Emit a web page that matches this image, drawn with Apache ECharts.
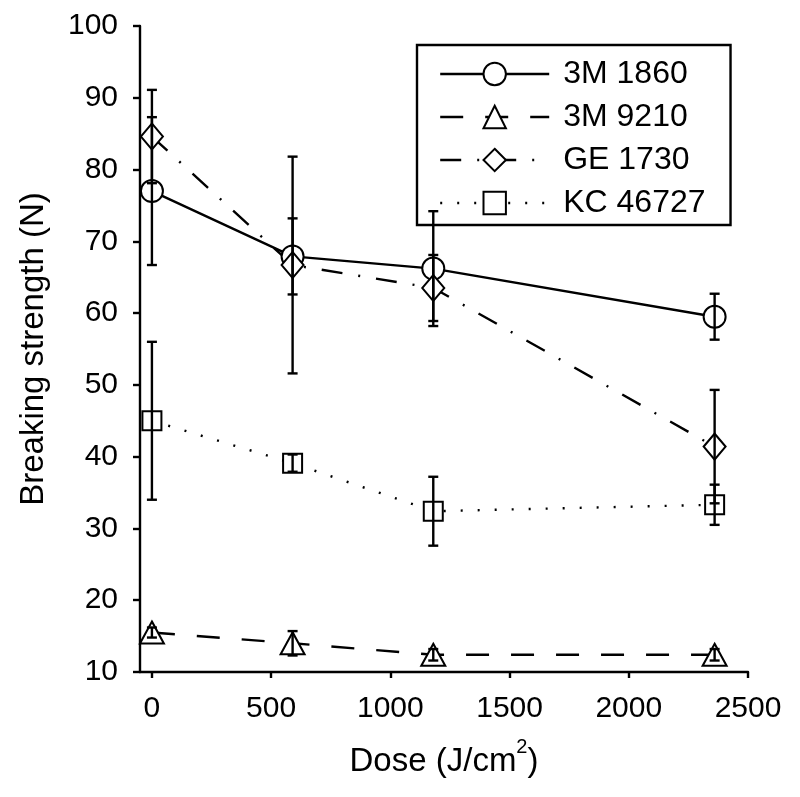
<!DOCTYPE html>
<html><head><meta charset="utf-8">
<script src="https://cdn.jsdelivr.net/npm/echarts@6/dist/echarts.min.js"></script>
<style>html,body{margin:0;padding:0;background:#fff}#c{width:800px;height:797px}</style>
</head><body><div id="c"></div>
<script>
const doses = [0, 590, 1180, 2360];
const seriesNames = ['3M 1860', '3M 9210', 'GE 1730', 'KC 46727'];
const m1860 = [77.0, 67.9, 66.2, 59.5];
const m1860Err = [10.3, 5.3, 8.0, 3.2];
const m9210 = [15.5, 14.0, 12.4, 12.4];
const m9210Err = [0.7, 1.7, 0.8, 0.8];
const ge1730 = [84.6, 66.7, 63.5, 41.4];
const ge1730Err = [6.5, 15.1, 4.6, 7.9];
const kc46727 = [45.0, 39.1, 32.4, 33.3];
const kc46727Err = [11.0, 1.2, 4.8, 2.8];
const xTicks = [0, 500, 1000, 1500, 2000, 2500];

const FONT = '"Liberation Sans", Arial, Helvetica, sans-serif';
const LW = 2.4;
const chart = echarts.init(document.getElementById('c'), null, {renderer: 'canvas'});

const means = [m1860, m9210, ge1730, kc46727];
const errs = [m1860Err, m9210Err, ge1730Err, kc46727Err];
const symbols = ['emptyCircle', 'emptyTriangle', 'emptyDiamond', 'emptyRect'];
const symbolSizes = [22, [24, 22], [22, 26], 19];
function dashOf(k) {
  return ['solid', [23, 22], [21, 16, 2, 16], [2, 15]][k];
}

function errRender(params, api) {
  const x = api.value(0), lo = api.value(1), hi = api.value(2);
  const pLo = api.coord([x, lo]), pHi = api.coord([x, hi]);
  const w = 5;
  const st = {stroke: '#000', lineWidth: LW};
  return {type: 'group', children: [
    {type: 'line', shape: {x1: pLo[0], y1: pLo[1], x2: pHi[0], y2: pHi[1]}, style: st},
    {type: 'line', shape: {x1: pLo[0] - w, y1: pLo[1], x2: pLo[0] + w, y2: pLo[1]}, style: st},
    {type: 'line', shape: {x1: pHi[0] - w, y1: pHi[1], x2: pHi[0] + w, y2: pHi[1]}, style: st}
  ]};
}

const series = [];
seriesNames.forEach((nm, k) => {
  series.push({
    type: 'line', name: nm,
    data: doses.map((d, i) => [d, means[k][i]]),
    symbol: symbols[k], symbolSize: symbolSizes[k],
    lineStyle: {color: '#000', width: LW, type: dashOf(k)},
    itemStyle: {color: '#000', borderColor: '#000', borderWidth: LW},
    emphasis: {disabled: true},
    z: 3, animation: false
  });
});
seriesNames.forEach((nm, k) => {
  series.push({
    type: 'custom', name: nm + ' err',
    renderItem: errRender,
    encode: {x: 0, y: [1, 2]},
    data: doses.map((d, i) => [d, means[k][i] - errs[k][i], means[k][i] + errs[k][i]]),
    z: 4, animation: false, silent: true
  });
});

chart.setOption({
  backgroundColor: '#fff',
  animation: false,
  grid: {left: 140, right: 52, top: 26, bottom: 125},
  legend: {
    left: 417, top: 45, orient: 'vertical',
    padding: [13, 25, 6, 22],
    backgroundColor: '#fff', borderColor: '#000', borderWidth: LW,
    itemWidth: 109, itemHeight: 28, itemGap: 11,
    selectedMode: false,
    textStyle: {fontSize: 32, color: '#000', fontFamily: FONT, padding: [0, 0, 0, 9]},
    data: seriesNames.map((n, k) => ({
      name: n,
      lineStyle: {color: '#000', width: LW, type: dashOf(k), opacity: 1},
      itemStyle: {color: '#000', borderColor: '#000', borderWidth: LW, opacity: 1}
    }))
  },
  xAxis: {
    type: 'value', min: -50, max: 2500,
    axisLine: {show: true, onZero: false, lineStyle: {color: '#000', width: LW}},
    axisTick: {show: true, length: 6, customValues: xTicks, lineStyle: {color: '#000', width: LW}},
    axisLabel: {customValues: xTicks, color: '#000', fontSize: 30, margin: 22, fontFamily: FONT,
      formatter: v => String(v)},
    splitLine: {show: false},
    name: 'Dose (J/cm{sup|2})', nameLocation: 'middle', nameGap: 65,
    nameTextStyle: {fontSize: 33, color: '#000', fontFamily: FONT, lineHeight: 50,
      rich: {sup: {fontSize: 20, lineHeight: 20, verticalAlign: 'top', color: '#000', fontFamily: FONT}}}
  },
  yAxis: {
    type: 'value', min: 10, max: 100, interval: 10,
    axisLine: {show: true, onZero: false, lineStyle: {color: '#000', width: LW}},
    axisTick: {show: true, length: 7, lineStyle: {color: '#000', width: LW}},
    axisLabel: {color: '#000', fontSize: 30, margin: 22, fontFamily: FONT},
    splitLine: {show: false},
    name: 'Breaking strength (N)', nameLocation: 'middle', nameGap: 90,
    nameTextStyle: {fontSize: 33, color: '#000', fontFamily: FONT}
  },
  series: series
});
</script>
</body></html>
